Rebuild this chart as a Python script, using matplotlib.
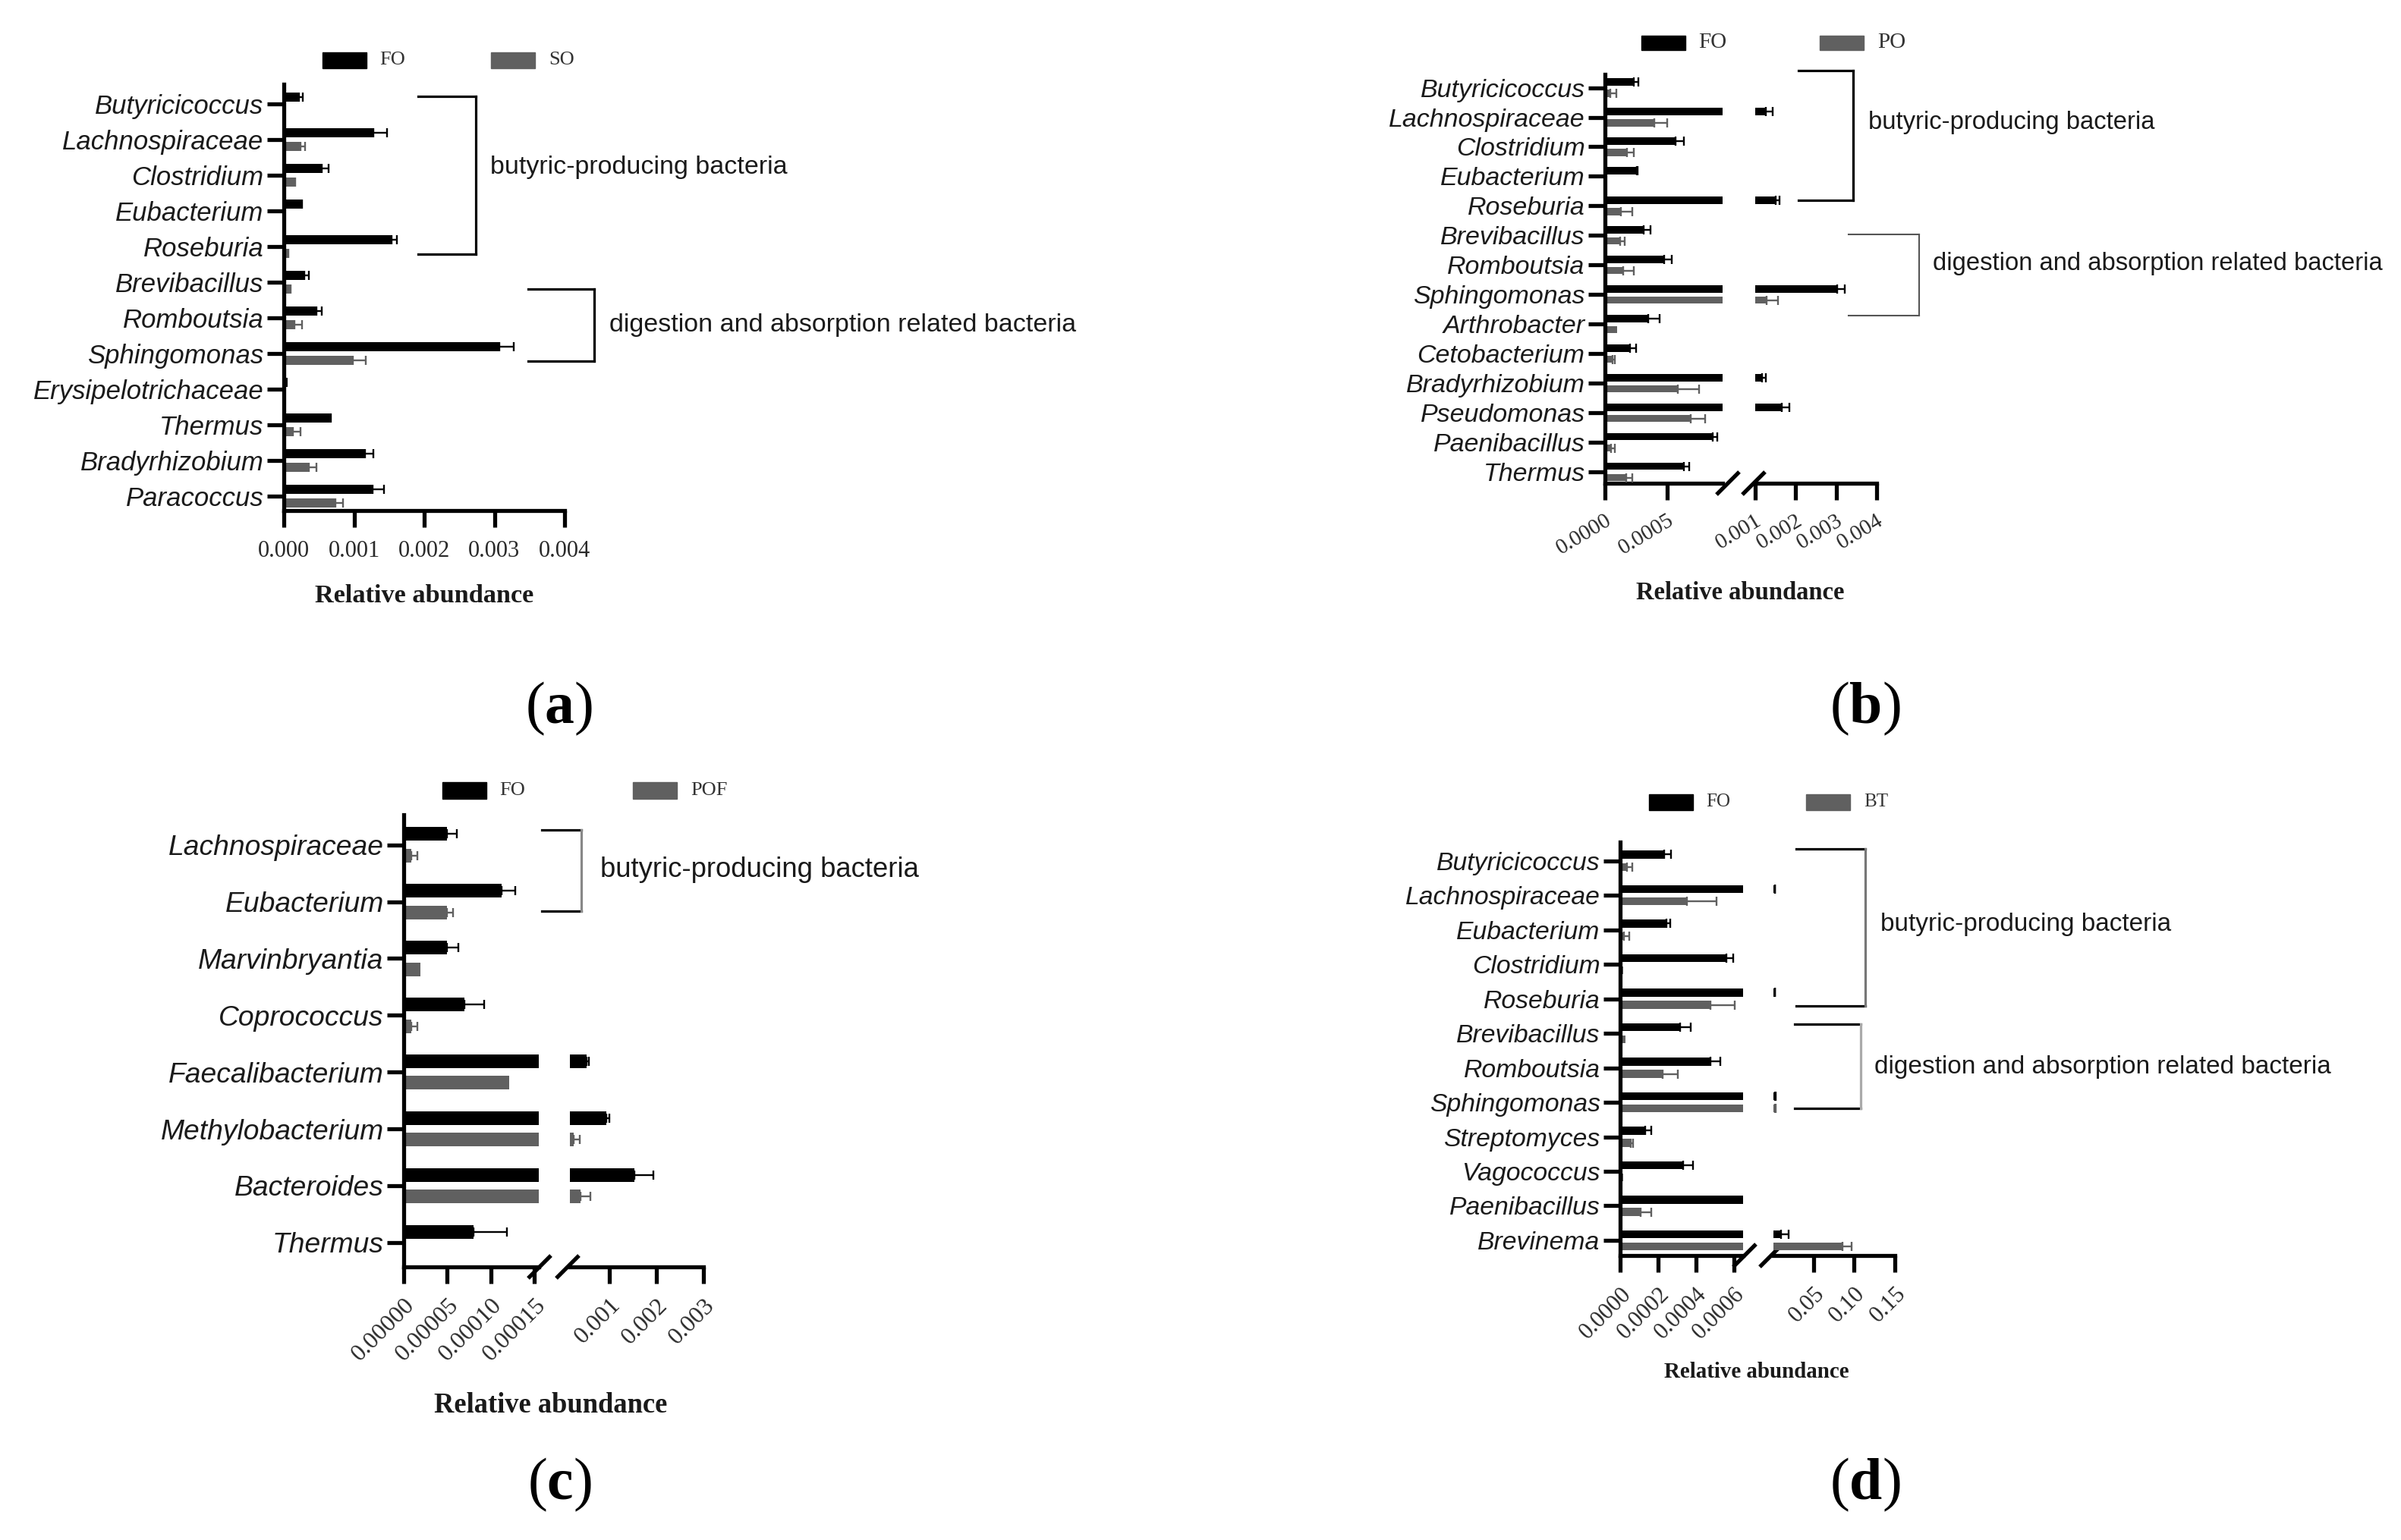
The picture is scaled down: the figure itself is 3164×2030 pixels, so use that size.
import numpy as np
import matplotlib
matplotlib.use("Agg")
import matplotlib.pyplot as plt
from matplotlib.patches import Rectangle

plt.rcParams['mathtext.fontset'] = 'custom'
plt.rcParams['mathtext.rm'] = 'Liberation Serif'
plt.rcParams['mathtext.bf'] = 'Liberation Serif:bold'

SANS = 'Liberation Sans'
SERIF = 'Liberation Serif'
GRAY = '#606060'
LW = 3.8

# ---------------- data ----------------
a_cats = ["Butyricicoccus", "Lachnospiraceae", "Clostridium", "Eubacterium", "Roseburia",
          "Brevibacillus", "Romboutsia", "Sphingomonas", "Erysipelotrichaceae", "Thermus",
          "Bradyrhizobium", "Paracoccus"]
a_fo = [0.00022, 0.00128, 0.00054, 0.00024, 0.00153, 0.00029, 0.00046, 0.00307, 0.00005, 0.00066, 0.00116, 0.00126]
a_fo_err = [0.00005, 0.00019, 0.0001, 0.00002, 0.00008, 0.00007, 0.00008, 0.00021, 0.0, 0.00001, 0.00012, 0.00017]
a_so = [0.00001, 0.00024, 0.00014, 0.0, 0.00005, 0.00008, 0.00015, 0.00098, 0.0, 0.00013, 0.00036, 0.00073]
a_so_err = [0.0, 0.00006, 0.00002, 0.0, 0.00001, 0.00002, 0.00011, 0.00019, 0.0, 0.00011, 0.0001, 0.00011]
a_ticks = [0.0, 0.001, 0.002, 0.003, 0.004]
a_ticklabels = ["0.000", "0.001", "0.002", "0.003", "0.004"]

b_cats = ["Butyricicoccus", "Lachnospiraceae", "Clostridium", "Eubacterium", "Roseburia",
          "Brevibacillus", "Romboutsia", "Sphingomonas", "Arthrobacter", "Cetobacterium",
          "Bradyrhizobium", "Pseudomonas", "Paenibacillus", "Thermus"]
b_fo = [0.00023, 0.00126, 0.00057, 0.000255, 0.00151, 0.00031, 0.00048, 0.00303, 0.00035, 0.0002, 0.00117, 0.00166, 0.00087, 0.00064]
b_fo_err = [0.00004, 0.00018, 0.00007, 0.00001, 0.00009, 0.00006, 0.00006, 0.00019, 0.00009, 0.00005, 0.00009, 0.00019, 0.00004, 0.00004]
b_po = [0.00004, 0.0004, 0.00018, 0.000005, 0.00013, 0.00012, 0.00015, 0.00128, 0.0001, 0.00006, 0.00059, 0.00069, 0.00005, 0.00017]
b_po_err = [0.00005, 0.0001, 0.00005, 0.0, 0.00009, 0.00004, 0.00008, 0.00029, 0.0, 0.00002, 0.00017, 0.00012, 0.00003, 0.00005]
b_ticks_l = [0.0, 0.0005]
b_ticklabels_l = ["0.0000", "0.0005"]
b_ticks_r = [0.001, 0.002, 0.003, 0.004]
b_ticklabels_r = ["0.001", "0.002", "0.003", "0.004"]

c_cats = ["Lachnospiraceae", "Eubacterium", "Marvinbryantia", "Coprococcus", "Faecalibacterium",
          "Methylobacterium", "Bacteroides", "Thermus"]
c_fo = [0.00005, 0.000112, 0.00005, 0.00007, 0.0005, 0.00092, 0.00153, 0.00008]
c_fo_err = [0.000011, 0.000016, 0.000013, 0.000022, 0.00005, 0.00008, 0.0004, 0.000038]
c_pof = [0.0000089, 0.00005, 0.0000188, 0.0000089, 0.000121, 0.00023, 0.00038, 0.0]
c_pof_err = [0.0000067, 0.0000067, 0.0, 0.0000067, 0.0, 0.00013, 0.0002, 0.0]
c_ticks_l = [0.0, 0.00005, 0.0001, 0.00015]
c_ticklabels_l = ["0.00000", "0.00005", "0.00010", "0.00015"]
c_ticks_r = [0.001, 0.002, 0.003]
c_ticklabels_r = ["0.001", "0.002", "0.003"]

d_cats = ["Butyricicoccus", "Lachnospiraceae", "Eubacterium", "Clostridium", "Roseburia",
          "Brevibacillus", "Romboutsia", "Sphingomonas", "Streptomyces", "Vagococcus",
          "Paenibacillus", "Brevinema"]
d_fo = [0.000233, 0.0025, 0.000243, 0.000563, 0.0025, 0.000315, 0.000476, 0.003, 0.000132, 0.000334, 0.0008, 0.0107]
d_fo_err = [0.000035, 0.0003, 0.00002, 0.000033, 0.0003, 0.000058, 0.000052, 0.0006, 0.000033, 0.00005, 0.0, 0.0085]
d_bt = [0.000035, 0.000353, 0.00002, 0.000015, 0.000476, 0.00003, 0.000223, 0.0028, 0.000058, 0.000015, 0.000107, 0.0855]
d_bt_err = [0.00003, 0.000156, 0.00003, 0.0, 0.00013, 0.0, 0.000082, 0.0006, 0.00001, 0.0, 0.000058, 0.0112]
d_ticks_l = [0.0, 0.0002, 0.0004, 0.0006]
d_ticklabels_l = ["0.0000", "0.0002", "0.0004", "0.0006"]
d_ticks_r = [0.05, 0.10, 0.15]
d_ticklabels_r = ["0.05", "0.10", "0.15"]

# ---------------- figure ----------------
W, H = 3164, 2030
fig = plt.figure(figsize=(W / 100, H / 100), dpi=100)

overlay = fig.add_axes([0, 0, 1, 1])
overlay.set_xlim(0, W)
overlay.set_ylim(H, 0)
overlay.axis('off')


def px_axes(x0, x1, ytop, ybot):
    return fig.add_axes([x0 / W, 1 - ybot / H, (x1 - x0) / W, (ybot - ytop) / H])


def draw_series(ax, v1, e1, v2, e2, off, h, xmin=0.0):
    n = len(v1)
    y = np.arange(n)
    for v, e, sgn, col in ((v1, e1, -1, 'black'), (v2, e2, 1, GRAY)):
        v = np.asarray(v, float)
        e = np.asarray(e, float)
        yy = y + sgn * off
        mb = v > xmin
        ax.barh(yy[mb], v[mb], height=h, color=col, linewidth=0, zorder=2)
        me = (e > 0) & mb
        ax.errorbar(v[me], yy[me], xerr=[np.zeros(me.sum()), e[me]], fmt='none',
                    ecolor=col, elinewidth=1.7, capsize=4, capthick=1.7, zorder=3)


def rotate_labels(ax, rot):
    for lab in ax.get_xticklabels():
        lab.set_rotation(rot)
        lab.set_ha('right')
        lab.set_va('top')
        lab.set_rotation_mode('anchor')


def style_main(ax, cats, ylim, catsize, ticks, labels, ticksize, rot, pad=10):
    ax.set_ylim(*ylim)
    ax.set_yticks(np.arange(len(cats)))
    ax.set_yticklabels(cats, fontsize=catsize, fontstyle='italic', fontfamily=SANS, color='#1a1a1a')
    for s in ['top', 'right']:
        ax.spines[s].set_visible(False)
    for s in ['left', 'bottom']:
        ax.spines[s].set_linewidth(LW)
    ax.tick_params(axis='y', length=16, width=LW, pad=3)
    ax.tick_params(axis='x', length=16, width=LW, pad=pad)
    ax.set_xticks(ticks)
    ax.set_xticklabels(labels, fontsize=ticksize, fontfamily=SERIF, color='#2a2a2a')
    if rot:
        rotate_labels(ax, rot)
    ax.patch.set_alpha(0)


def style_right(ax, ylim, ticks, labels, ticksize, rot, pad=10):
    ax.set_ylim(*ylim)
    ax.set_yticks([])
    for s in ['top', 'right', 'left']:
        ax.spines[s].set_visible(False)
    ax.spines['bottom'].set_linewidth(LW)
    ax.tick_params(axis='x', length=16, width=LW, pad=pad)
    ax.set_xticks(ticks)
    ax.set_xticklabels(labels, fontsize=ticksize, fontfamily=SERIF, color='#2a2a2a')
    if rot:
        rotate_labels(ax, rot)
    ax.patch.set_alpha(0)


def slash(x, y, s=15):
    overlay.plot([x - s, x + s], [y + s, y - s], color='black', lw=LW, solid_capstyle='butt')


def bracket(xl, xr, yt, yb, color='black', vcolor=None, lw=2.3):
    overlay.plot([xl, xr], [yt, yt], color=color, lw=lw)
    overlay.plot([xl, xr], [yb, yb], color=color, lw=lw)
    overlay.plot([xr, xr], [yt, yb], color=vcolor or color, lw=lw)


def legend(x_fo, x_other, y, name, bw=58, bh=21, size=19):
    overlay.add_patch(Rectangle((x_fo, y - bh / 2), bw, bh, color='black'))
    overlay.text(x_fo + bw + 17, y, "FO", fontsize=size, fontfamily=SERIF, va='center', ha='left', color='#333333')
    overlay.add_patch(Rectangle((x_other, y - bh / 2), bw, bh, color=GRAY))
    overlay.text(x_other + bw + 18, y, name, fontsize=size, fontfamily=SERIF, va='center', ha='left', color='#333333')


def ann(x, y, s, size):
    overlay.text(x, y, s, fontsize=size, fontfamily=SANS, va='center', ha='left', color='#1a1a1a')


def xlabel(x, y, size):
    overlay.text(x, y, "Relative abundance", fontsize=size, fontfamily=SERIF, fontweight='bold',
                 ha='center', va='center', color='#1a1a1a')


def plabel(x, y, letter):
    overlay.text(x, y, r'($\mathbf{' + letter + '}$)', fontsize=56, fontfamily=SERIF,
                 ha='center', va='center', color='black')


# ---------------- panel (a) ----------------
ylim_a = (11.4, -0.55)
axa = px_axes(374, 744, 111, 673)
draw_series(axa, a_fo, a_fo_err, a_so, a_so_err, 0.19, 0.25)
axa.set_xlim(0, 0.004)
style_main(axa, a_cats, ylim_a, 25, a_ticks, a_ticklabels, 22, 0, pad=12)
legend(425, 647, 79, "SO", size=19)
bracket(551, 627, 127, 335)
ann(646, 220, "butyric-producing bacteria", 24.5)
bracket(696, 783, 381, 476)
ann(803, 428, "digestion and absorption related bacteria", 24.5)
xlabel(559, 785, 24.7)
plabel(737, 934, 'a')

# ---------------- panel (b) ----------------
ylim_b = (13.38, -0.45)
yt_b, yb_b = 98, 637
axb1 = px_axes(2115, 2270, yt_b, yb_b)
axb2 = px_axes(2313, 2473, yt_b, yb_b)
draw_series(axb1, b_fo, b_fo_err, b_po, b_po_err, 0.19, 0.24)
draw_series(axb2, b_fo, b_fo_err, b_po, b_po_err, 0.19, 0.24, xmin=0.001)
axb1.set_xlim(0, 0.00095)
axb2.set_xlim(0.001, 0.004)
style_main(axb1, b_cats, ylim_b, 24.5, b_ticks_l, b_ticklabels_l, 21, 31)
style_right(axb2, ylim_b, b_ticks_r, b_ticklabels_r, 21, 31)
slash(2277, yb_b)
slash(2311, yb_b)
legend(2163, 2398, 56, "PO", bh=19, size=21)
bracket(2370, 2442, 93, 264)
ann(2462, 161, "butyric-producing bacteria", 23.6)
bracket(2436, 2529, 309, 416, color='#555555', lw=1.5)
ann(2547, 347, "digestion and absorption related bacteria", 23.6)
xlabel(2293, 782, 23.5)
plabel(2458, 934, 'b')

# ---------------- panel (c) ----------------
ylim_c = (7.43, -0.53)
yt_c, yb_c = 1074, 1670
axc1 = px_axes(532, 710, yt_c, yb_c)
axc2 = px_axes(751, 927, yt_c, yb_c)
draw_series(axc1, c_fo, c_fo_err, c_pof, c_pof_err, 0.19, 0.24)
draw_series(axc2, c_fo, c_fo_err, c_pof, c_pof_err, 0.19, 0.24, xmin=0.00015)
axc1.set_xlim(0, 0.000155)
axc2.set_xlim(0.00015, 0.003)
style_main(axc1, c_cats, ylim_c, 26.8, c_ticks_l, c_ticklabels_l, 23, 45)
style_right(axc2, ylim_c, c_ticks_r, c_ticklabels_r, 23, 45)
slash(711, yb_c)
slash(748, yb_c)
legend(583, 834, 1042, "POF", bh=22, size=19)
bracket(714, 766, 1094, 1201, vcolor='#888888')
ann(791, 1146, "butyric-producing bacteria", 26.3)
xlabel(726, 1853, 26.3)
plabel(737, 1957, 'c')

# ---------------- panel (d) ----------------
ylim_d = (11.44, -0.54)
yt_d, yb_d = 1110, 1655
axd1 = px_axes(2135, 2297, yt_d, yb_d)
axd2 = px_axes(2337, 2497, yt_d, yb_d)
draw_series(axd1, d_fo, d_fo_err, d_bt, d_bt_err, 0.18, 0.23)
draw_series(axd2, d_fo, d_fo_err, d_bt, d_bt_err, 0.18, 0.23, xmin=0.001)
axd1.set_xlim(0, 0.00065)
axd2.set_xlim(0.001, 0.15)
style_main(axd1, d_cats, ylim_d, 24.3, d_ticks_l, d_ticklabels_l, 22, 45)
style_right(axd2, ylim_d, d_ticks_r, d_ticklabels_r, 22, 45)
slash(2299, yb_d)
slash(2334, yb_d)
legend(2173, 2380, 1057, "BT", bh=21, size=18)
bracket(2367, 2458, 1119, 1326, vcolor='#777777')
ann(2478, 1219, "butyric-producing bacteria", 24)
bracket(2365, 2452, 1350, 1461, vcolor='#aaaaaa')
ann(2470, 1407, "digestion and absorption related bacteria", 24)
xlabel(2315, 1808, 20.9)
plabel(2458, 1957, 'd')

fig.savefig("out.png", dpi=100, facecolor='white')
